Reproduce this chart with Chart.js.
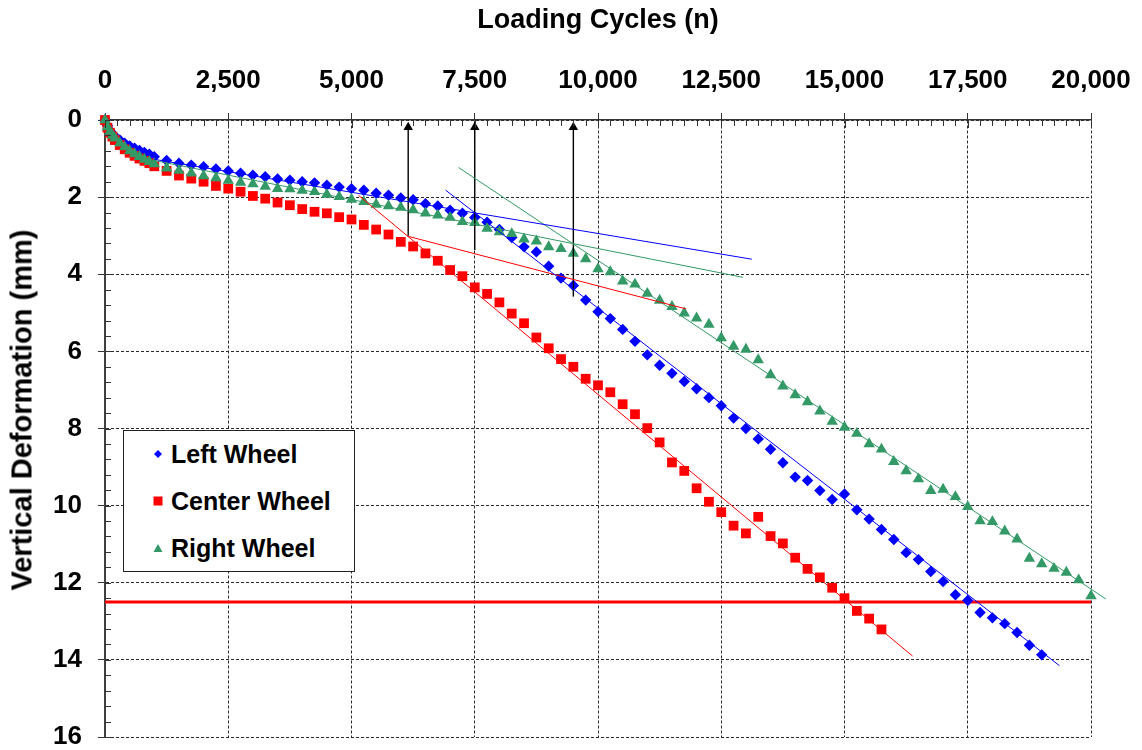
<!DOCTYPE html>
<html>
<head>
<meta charset="utf-8">
<script src="https://cdn.jsdelivr.net/npm/chart.js@4.4.1/dist/chart.umd.min.js"></script>
<style>
  html, body { margin: 0; padding: 0; background: #fff; }
  #wrap { position: relative; width: 1142px; height: 750px; font-family: 'Liberation Sans', Arial, sans-serif; }
  #yTitle { position: absolute; left: 22px; top: 410px; transform: translate(-50%, -50%) rotate(-90deg);
            font-weight: bold; font-size: 29px; white-space: nowrap; color: #000; }
  #legend { position: absolute; left: 123px; top: 430px; width: 230px; height: 140px;
            border: 1px solid #222; background: #fff; }
  .row { position: absolute; left: 28px; height: 30px; display: flex; align-items: center;
         font-weight: bold; font-size: 25px; color: #000; white-space: nowrap; }
  .row svg { margin-right: 7px; }
</style>
</head>
<body>
<div id="wrap">
  <canvas id="deformChart"></canvas>
  <div id="yTitle">Vertical Deformation (mm)</div>
  <div id="legend">
    <div class="row" style="top:8px"><svg width="12" height="12"><polygon points="6,2 10,6 6,10 2,6" fill="#0000FF"/></svg>Left Wheel</div>
    <div class="row" style="top:55px"><svg width="12" height="12"><rect x="1.5" y="1.5" width="9" height="9" fill="#FF0000"/></svg>Center Wheel</div>
    <div class="row" style="top:102px"><svg width="12" height="12"><polygon points="6,2 10.5,10 1.5,10" fill="#339966"/></svg>Right Wheel</div>
  </div>
</div>
<script>
// ── data ─────────────────────────────────────────────────────────
const cycles = [0,50,100,150,200,300,400,500,600,700,800,900,1000,
  1250,1500,1750,2000,2250,2500,2750,3000,3250,3500,3750,4000,4250,4500,4750,5000,5250,5500,5750,
  6000,6250,6500,6750,7000,7250,7500,7750,8000,8250,8500,8750,9000,9250,9500,9750,10000,
  10250,10500,10750,11000,11250,11500,11750,12000,12250,12500,12750,13000,13250,13500,13750,14000,
  14250,14500,14750,15000,15250,15500,15750,16000,16250,16500,16750,17000,17250,17500,17750,18000,
  18250,18500,18750,19000,19250,19500,19750,20000];

const leftWheel = [0,0.15,0.27,0.36,0.42,0.52,0.60,0.67,0.73,0.79,0.84,0.89,0.95,
  1.05,1.12,1.17,1.21,1.27,1.32,1.38,1.43,1.47,1.53,1.56,1.60,1.63,1.69,1.74,1.78,1.82,1.90,1.95,
  2.02,2.07,2.17,2.23,2.34,2.42,2.53,2.65,2.84,3.05,3.29,3.42,3.79,4.10,4.29,4.67,4.97,
  5.15,5.43,5.74,6.09,6.36,6.57,6.78,6.97,7.20,7.41,7.73,8.00,8.27,8.54,8.89,9.26,
  9.35,9.61,9.84,9.70,10.11,10.35,10.62,10.88,11.22,11.40,11.71,11.97,12.31,12.46,12.77,12.91,
  13.06,13.29,13.62,13.87,null,null,null,null];

const centerWheel = [0,0.20,0.33,0.43,0.52,0.65,0.76,0.85,0.93,1.00,1.06,1.12,1.20,
  1.32,1.44,1.52,1.60,1.71,1.78,1.86,1.97,2.04,2.14,2.21,2.31,2.38,2.42,2.52,2.58,2.72,2.84,2.97,
  3.16,3.28,3.46,3.65,3.89,4.05,4.34,4.51,4.73,5.02,5.27,5.64,5.92,6.20,6.40,6.71,6.88,
  7.06,7.37,7.63,7.99,8.36,8.88,9.10,9.55,9.90,10.17,10.52,10.72,10.29,10.79,10.98,11.35,
  11.64,11.86,12.13,12.40,12.73,12.93,13.21,null,null,null,null,null,null,null,null,null,
  null,null,null,null,null,null,null,null];

const rightWheel = [0,0.18,0.30,0.40,0.47,0.60,0.70,0.80,0.88,0.95,1.02,1.08,1.14,
  1.25,1.31,1.38,1.45,1.50,1.57,1.62,1.66,1.72,1.78,1.79,1.83,1.86,1.93,1.99,2.06,2.12,2.19,2.23,
  2.27,2.33,2.42,2.47,2.53,2.64,2.66,2.81,2.90,2.95,3.09,3.14,3.29,3.34,3.46,3.60,3.86,
  3.94,4.18,4.26,4.50,4.68,4.84,5.01,5.14,5.30,5.65,5.87,5.95,6.22,6.61,6.90,7.13,
  7.31,7.55,7.82,7.97,8.13,8.40,8.54,8.86,9.10,9.31,9.61,9.58,9.77,10.03,10.40,10.42,
  10.66,10.87,11.37,11.51,11.63,11.73,11.93,12.34];

// tangent lines (start / end)
const leftFitA_x = [1000, 13120],  leftFitA_y = [1.02, 3.61];
const leftFitB_x = [6910, 19360],  leftFitB_y = [1.82, 14.15];
const centerFitA_x = [6130, 11790], centerFitA_y = [3.01, 4.90];
const centerFitB_x = [5140, 16380], centerFitB_y = [1.95, 13.90];
const rightFitA_x = [1000, 12940], rightFitA_y = [1.05, 4.08];
const rightFitB_x = [7170, 20300], rightFitB_y = [1.23, 12.42];

// arrows marking the break points
const arrowCycles = [6150, 7500, 9500];
const arrowBase = [3.00, 3.37, 4.58];
const arrowTip = 0.19;

const failureDepth = 12.5;

// ── helpers ──────────────────────────────────────────────────────
const toPoints = (xs, ys) => xs.map((x, i) => ({ x: x, y: ys[i] })).filter(p => p.y !== null);

function fitLine(xs, ys, color) {
  return { data: toPoints(xs, ys), showLine: true, fill: false, borderColor: color, borderWidth: 1,
           pointRadius: 0, order: 0 };
}

// minor ticks drawn inward from the axes
const minorTicks = {
  id: 'minorTicks',
  afterDatasetsDraw(chart) {
    const { ctx, chartArea, scales } = chart;
    ctx.save();
    ctx.strokeStyle = '#333';
    ctx.lineWidth = 1;
    ctx.beginPath();
    for (let n = 0; n <= 20000; n += 250) {
      const px = Math.round(scales.x.getPixelForValue(n)) + 0.5;
      ctx.moveTo(px, chartArea.top);
      ctx.lineTo(px, chartArea.top + (n % 2500 === 0 ? 8 : 6));
    }
    for (let d = 0; d <= 16.001; d += 0.4) {
      const py = Math.round(scales.y.getPixelForValue(d)) + 0.5;
      ctx.moveTo(chartArea.left, py);
      ctx.lineTo(chartArea.left + 6, py);
    }
    ctx.stroke();
    ctx.restore();
  }
};

Chart.defaults.font.family = "'Liberation Sans', Arial, sans-serif";
Chart.defaults.color = '#000';

const datasets = [
  { label: 'Right Wheel', data: toPoints(cycles, rightWheel), showLine: false, pointStyle: 'triangle', pointRadius: 6.6,
    pointBackgroundColor: '#339966', pointBorderColor: '#339966', pointBorderWidth: 0, clip: false, order: 1 },
  { label: 'Center Wheel', data: toPoints(cycles, centerWheel), showLine: false, pointStyle: 'rect', pointRadius: 6.9,
    pointBackgroundColor: '#FF0000', pointBorderColor: '#FF0000', pointBorderWidth: 0, clip: false, order: 2 },
  { label: 'Left Wheel', data: toPoints(cycles, leftWheel), showLine: false, pointStyle: 'rectRot', pointRadius: 5.7,
    pointBackgroundColor: '#0000FF', pointBorderColor: '#0000FF', pointBorderWidth: 0, clip: false, order: 3 },
  { label: 'Failure', data: [{ x: 0, y: failureDepth }, { x: 20000, y: failureDepth }], showLine: true,
    borderColor: '#FF0000', borderWidth: 3, pointRadius: 0, order: 5 },
  fitLine(leftFitA_x, leftFitA_y, '#0000FF'),
  fitLine(leftFitB_x, leftFitB_y, '#0000FF'),
  fitLine(centerFitA_x, centerFitA_y, '#FF0000'),
  fitLine(centerFitB_x, centerFitB_y, '#FF0000'),
  fitLine(rightFitA_x, rightFitA_y, '#339966'),
  Object.assign(fitLine(rightFitB_x, rightFitB_y, '#339966'), { clip: false }),
];

arrowCycles.forEach((n, i) => {
  datasets.push({ data: [{ x: n, y: arrowBase[i] }, { x: n, y: arrowTip }], showLine: true,
    borderColor: '#000', borderWidth: 1.4, pointStyle: 'triangle', pointRadius: [0, 5.5],
    pointBackgroundColor: '#000', pointBorderColor: '#000', pointBorderWidth: 0, order: 0 });
});

const gridOpts = { color: '#2a2a2a', lineWidth: 1, tickLength: 7, tickColor: '#333', tickWidth: 1 };

new Chart(document.getElementById('deformChart'), {
  type: 'scatter',
  data: { datasets: datasets },
  options: {
    responsive: true, maintainAspectRatio: false, animation: false,
    layout: { padding: { left: 0, right: 51, top: 0, bottom: 13 } },
    plugins: { legend: { display: false }, tooltip: { enabled: false } },
    scales: {
      x: {
        type: 'linear', position: 'top', min: 0, max: 20000,
        ticks: { stepSize: 2500, padding: 17, color: '#000', font: { size: 26, weight: 'bold' } },
        grid: gridOpts,
        border: { color: '#333', width: 1.5, dash: [3, 2] },
        title: { display: true, text: 'Loading Cycles (n)', color: '#000', font: { size: 27, weight: 'bold' },
                 padding: { top: 4, bottom: 0 } },
        afterFit(scale) { scale.height = 120; scale.paddingLeft = 0; scale.paddingRight = 0; }
      },
      y: {
        type: 'linear', reverse: true, min: 0, max: 16,
        ticks: { stepSize: 2, padding: 16, color: '#000', font: { size: 26, weight: 'bold' } },
        grid: gridOpts,
        border: { color: '#404040', width: 2, dash: [3, 2] },
        afterFit(scale) { scale.width = 105; scale.paddingTop = 0; scale.paddingBottom = 0; }
      }
    }
  },
  plugins: [minorTicks]
});
</script>
</body>
</html>
